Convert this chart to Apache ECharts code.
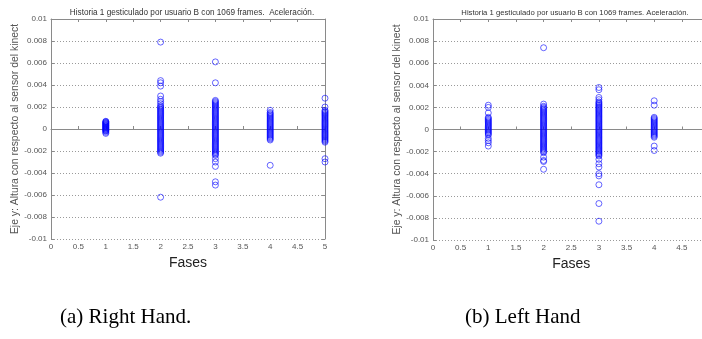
<!DOCTYPE html>
<html><head><meta charset="utf-8">
<script src="https://cdn.jsdelivr.net/npm/echarts@6/dist/echarts.min.js"></script>
<style>html,body{margin:0;padding:0;background:#fff}#c{width:702px;height:339px}</style>
</head><body><div id="c"></div>
<script>
// ---- Data ----
const titleTextA = 'Historia 1 gesticulado por usuario B con 1069 frames.  Aceleración.';
const titleTextB = 'Historia 1 gesticulado por usuario B con 1069 frames. Aceleración.';
const yAxisName = 'Eje y: Altura con respecto al sensor del kinect';
const xAxisName = 'Fases';
const captions = ['(a) Right Hand.', '(b) Left Hand'];

// Right hand, values per phase (Fase 1..5)
const rightFase1 = [0.0007,0.00066,0.0006,0.00056,0.0005,0.00046,0.0004,0.00035,0.0003,0.00026,0.0002,0.00015,0.0001,0.00005,0,-0.00005,-0.0001,-0.00016,-0.0002,-0.0003,-0.0004];
const rightFase2 = [0.0079,0.0044,0.0042,0.0039,0.0030,0.0027,0.0025,0.0023,0.0021,0.0020,0.0019,0.0018,0.0017,0.0016,0.0015,0.0014,0.0013,0.0012,0.0011,0.0010,0.0009,0.0008,0.0007,0.0006,0.0005,0.0004,0.0003,0.0002,0.0001,0,-0.0001,-0.0002,-0.0003,-0.0004,-0.0005,-0.0006,-0.0007,-0.0008,-0.0009,-0.0010,-0.0011,-0.0012,-0.0013,-0.0014,-0.0015,-0.0016,-0.0017,-0.0018,-0.0019,-0.0020,-0.0021,-0.0022,-0.0062];
const rightFase3 = [0.0061,0.0042,0.0026,0.0025,0.0024,0.0023,0.0022,0.0021,0.0020,0.0019,0.0018,0.0017,0.0016,0.0015,0.0014,0.0013,0.0012,0.0011,0.0010,0.0009,0.0008,0.0007,0.0006,0.0005,0.0004,0.0003,0.0002,0.0001,0,-0.0001,-0.0002,-0.0003,-0.0004,-0.0005,-0.0006,-0.0007,-0.0008,-0.0009,-0.0010,-0.0011,-0.0012,-0.0013,-0.0014,-0.0015,-0.0016,-0.0017,-0.0018,-0.0019,-0.0020,-0.0021,-0.0022,-0.0023,-0.0024,-0.0027,-0.0030,-0.0034,-0.0048,-0.0051];
const rightFase4 = [0.0017,0.0015,0.0014,0.0013,0.0012,0.0011,0.0010,0.0009,0.0008,0.0007,0.0006,0.0005,0.0004,0.0003,0.0002,0.0001,0,-0.0001,-0.0002,-0.0003,-0.0004,-0.0005,-0.0006,-0.0007,-0.0008,-0.0009,-0.0010,-0.0033];
const rightFase5 = [0.0028,0.0020,0.0017,0.0016,0.0015,0.0014,0.0013,0.0012,0.0011,0.0010,0.0009,0.0008,0.0007,0.0006,0.0005,0.0004,0.0003,0.0002,0.0001,0,-0.0001,-0.0002,-0.0003,-0.0004,-0.0005,-0.0006,-0.0007,-0.0008,-0.0009,-0.0010,-0.0011,-0.0012,-0.0027,-0.0030];

// Left hand, values per phase (Fase 1..4)
const leftFase1 = [0.0022,0.0020,0.0015,0.0011,0.0010,0.0009,0.0008,0.0007,0.0006,0.0005,0.0004,0.0003,0.0002,0.0001,0,-0.0001,-0.0002,-0.0003,-0.0004,-0.0005,-0.0008,-0.0010,-0.0012,-0.0015];
const leftFase2 = [0.0074,0.0023,0.0021,0.0020,0.0019,0.0018,0.0017,0.0016,0.0015,0.0014,0.0013,0.0012,0.0011,0.0010,0.0009,0.0008,0.0007,0.0006,0.0005,0.0004,0.0003,0.0002,0.0001,0,-0.0001,-0.0002,-0.0003,-0.0004,-0.0005,-0.0006,-0.0007,-0.0008,-0.0009,-0.0010,-0.0011,-0.0012,-0.0013,-0.0014,-0.0015,-0.0016,-0.0017,-0.0018,-0.0019,-0.0020,-0.0021,-0.0025,-0.0028,-0.0029,-0.0036];
const leftFase3 = [0.0038,0.0036,0.0029,0.0027,0.0025,0.0024,0.0023,0.0022,0.0021,0.0020,0.0019,0.0018,0.0017,0.0016,0.0015,0.0014,0.0013,0.0012,0.0011,0.0010,0.0009,0.0008,0.0007,0.0006,0.0005,0.0004,0.0003,0.0002,0.0001,0,-0.0001,-0.0002,-0.0003,-0.0004,-0.0005,-0.0006,-0.0007,-0.0008,-0.0009,-0.0010,-0.0011,-0.0012,-0.0013,-0.0014,-0.0015,-0.0016,-0.0017,-0.0018,-0.0019,-0.0020,-0.0021,-0.0022,-0.0023,-0.0024,-0.0027,-0.0031,-0.0034,-0.0040,-0.0042,-0.0050,-0.0067,-0.0083];
const leftFase4 = [0.0026,0.0022,0.0011,0.0010,0.0009,0.0008,0.0007,0.0006,0.0005,0.0004,0.0003,0.0002,0.0001,0,-0.0001,-0.0002,-0.0003,-0.0004,-0.0005,-0.0006,-0.0007,-0.0015,-0.0019];

const rightPhases = [rightFase1, rightFase2, rightFase3, rightFase4, rightFase5];
const leftPhases = [leftFase1, leftFase2, leftFase3, leftFase4];

// ---- Build ----
function toPoints(phases){
  const pts = [];
  phases.forEach((vals, i) => vals.forEach(v => pts.push([i + 1, v])));
  return pts;
}
const FONT = "'Liberation Sans', Arial, sans-serif";
const axisGray = '#8a8a8a';
const labelGray = '#555';

const grids = [
  {left: 51, top: 19, width: 274, height: 220, outerBoundsMode: 'none', containLabel: false},
  {left: 433, top: 19, width: 276.5, height: 221, outerBoundsMode: 'none', containLabel: false}
];

const xAxes = [], yAxes = [];
grids.forEach((g, gi) => {
  xAxes.push({
    type: 'value', gridIndex: gi, min: 0, max: 5, interval: 0.5,
    name: xAxisName, nameLocation: 'middle', nameGap: 13,
    nameTextStyle: {fontFamily: FONT, fontSize: 14, color: '#222'},
    axisLine: {show: true, lineStyle: {color: axisGray, width: 1}},
    axisTick: {show: true, inside: true, length: 3, lineStyle: {color: axisGray}},
    axisLabel: {fontFamily: FONT, fontSize: 8, color: labelGray, margin: 4, formatter: v => String(+v.toFixed(1))},
    splitLine: {show: false}
  });
  xAxes.push({
    type: 'value', gridIndex: gi, position: 'top', min: 0, max: 5, interval: 0.5,
    axisLine: {show: true, onZero: false, lineStyle: {color: axisGray, width: 1}},
    axisTick: {show: true, inside: true, length: 3, lineStyle: {color: axisGray}},
    axisLabel: {show: false}, splitLine: {show: false}
  });
  yAxes.push({
    type: 'value', gridIndex: gi, min: -0.01, max: 0.01, interval: 0.002,
    name: yAxisName, nameLocation: 'middle', nameRotate: 90, nameGap: 30,
    nameTextStyle: {fontFamily: FONT, fontSize: 10.4, color: labelGray},
    axisLine: {show: true, onZero: false, lineStyle: {color: axisGray, width: 1}},
    axisTick: {show: true, inside: true, length: 3, lineStyle: {color: axisGray}},
    axisLabel: {fontFamily: FONT, fontSize: 8, color: labelGray, margin: 4, formatter: v => String(+v.toFixed(3))},
    splitLine: {show: true, lineStyle: {color: '#9a9a9a', type: [1, 2], width: 1}}
  });
  yAxes.push({
    type: 'value', gridIndex: gi, position: 'right', min: -0.01, max: 0.01, interval: 0.002,
    axisLine: {show: true, onZero: false, lineStyle: {color: axisGray, width: 1}},
    axisTick: {show: true, inside: true, length: 3, lineStyle: {color: axisGray}},
    axisLabel: {show: false}, splitLine: {show: false}
  });
});

const markerStyle = {color: 'rgba(0,0,0,0)', borderColor: 'rgba(0,0,255,0.75)', borderWidth: 1};

const option = {
  animation: false,
  backgroundColor: '#fff',
  title: [
    {text: titleTextA, left: 187, top: 4, textAlign: 'center', textStyle: {fontFamily: FONT, fontSize: 8.2, fontWeight: 'normal', color: '#333'}},
    {text: titleTextB, left: 570, top: 4, textAlign: 'center', textStyle: {fontFamily: FONT, fontSize: 7.7, fontWeight: 'normal', color: '#333'}}
  ],
  grid: grids,
  xAxis: xAxes,
  yAxis: yAxes,
  series: [
    {type: 'scatter', xAxisIndex: 0, yAxisIndex: 0, symbol: 'circle', symbolSize: 6, itemStyle: markerStyle, data: toPoints(rightPhases), clip: false},
    {type: 'scatter', xAxisIndex: 2, yAxisIndex: 2, symbol: 'circle', symbolSize: 6, itemStyle: markerStyle, data: toPoints(leftPhases), clip: false}
  ],
  graphic: [
    {type: 'text', left: 60, top: 307, style: {text: captions[0], font: "21px 'Liberation Serif', 'Times New Roman', serif", fill: '#000'}},
    {type: 'text', left: 465, top: 307, style: {text: captions[1], font: "21px 'Liberation Serif', 'Times New Roman', serif", fill: '#000'}}
  ]
};
const chart = echarts.init(document.getElementById('c'), null, {renderer: 'canvas'});
chart.setOption(option);
</script></body></html>
